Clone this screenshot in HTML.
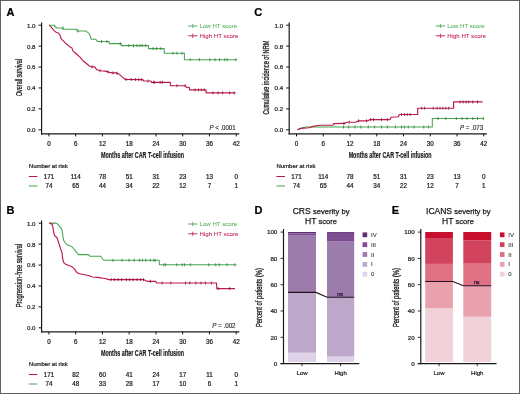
<!DOCTYPE html>
<html><head><meta charset="utf-8"><style>
html,body{margin:0;padding:0;background:#fff;}
#f{position:relative;width:520px;height:394px;overflow:hidden;background:#fff;}
svg{position:absolute;left:0;top:0;font-family:"Liberation Sans", sans-serif;will-change:transform;}
</style></head><body><div id="f">
<svg width="520" height="394" viewBox="0 0 520 394">
<rect x="0" y="0" width="520" height="394" fill="#fff"/>
<text x="6.6" y="15.9" font-size="11" text-anchor="start" fill="#000" font-weight="bold" stroke="#000" stroke-width="0.22" >A</text>
<line x1="41.6" y1="22.4" x2="41.6" y2="134.4" stroke="#1a1a1a" stroke-width="1.2"/>
<line x1="41" y1="133.9" x2="239.3" y2="133.9" stroke="#1a1a1a" stroke-width="1.4"/>
<line x1="38.6" y1="129.8" x2="41.6" y2="129.8" stroke="#111" stroke-width="1.0"/>
<text x="35.5" y="132.2" font-size="6.1" text-anchor="end" fill="#222" font-weight="normal" stroke="#222" stroke-width="0.22" >0.0</text>
<line x1="38.6" y1="108.88" x2="41.6" y2="108.88" stroke="#111" stroke-width="1.0"/>
<text x="35.5" y="111.28" font-size="6.1" text-anchor="end" fill="#222" font-weight="normal" stroke="#222" stroke-width="0.22" >0.2</text>
<line x1="38.6" y1="87.96" x2="41.6" y2="87.96" stroke="#111" stroke-width="1.0"/>
<text x="35.5" y="90.36" font-size="6.1" text-anchor="end" fill="#222" font-weight="normal" stroke="#222" stroke-width="0.22" >0.4</text>
<line x1="38.6" y1="67.04" x2="41.6" y2="67.04" stroke="#111" stroke-width="1.0"/>
<text x="35.5" y="69.44" font-size="6.1" text-anchor="end" fill="#222" font-weight="normal" stroke="#222" stroke-width="0.22" >0.6</text>
<line x1="38.6" y1="46.12" x2="41.6" y2="46.12" stroke="#111" stroke-width="1.0"/>
<text x="35.5" y="48.52" font-size="6.1" text-anchor="end" fill="#222" font-weight="normal" stroke="#222" stroke-width="0.22" >0.8</text>
<line x1="38.6" y1="25.2" x2="41.6" y2="25.2" stroke="#111" stroke-width="1.0"/>
<text x="35.5" y="27.6" font-size="6.1" text-anchor="end" fill="#222" font-weight="normal" stroke="#222" stroke-width="0.22" >1.0</text>
<line x1="48.9" y1="133.8" x2="48.9" y2="136.4" stroke="#111" stroke-width="1.0"/>
<text x="48.9" y="145.8" font-size="6.3" text-anchor="middle" fill="#222" font-weight="normal" stroke="#222" stroke-width="0.22" >0</text>
<line x1="75.66" y1="133.8" x2="75.66" y2="136.4" stroke="#111" stroke-width="1.0"/>
<text x="75.66" y="145.8" font-size="6.3" text-anchor="middle" fill="#222" font-weight="normal" stroke="#222" stroke-width="0.22" >6</text>
<line x1="102.41" y1="133.8" x2="102.41" y2="136.4" stroke="#111" stroke-width="1.0"/>
<text x="102.41" y="145.8" font-size="6.3" text-anchor="middle" fill="#222" font-weight="normal" stroke="#222" stroke-width="0.22" >12</text>
<line x1="129.17" y1="133.8" x2="129.17" y2="136.4" stroke="#111" stroke-width="1.0"/>
<text x="129.17" y="145.8" font-size="6.3" text-anchor="middle" fill="#222" font-weight="normal" stroke="#222" stroke-width="0.22" >18</text>
<line x1="155.93" y1="133.8" x2="155.93" y2="136.4" stroke="#111" stroke-width="1.0"/>
<text x="155.93" y="145.8" font-size="6.3" text-anchor="middle" fill="#222" font-weight="normal" stroke="#222" stroke-width="0.22" >24</text>
<line x1="182.69" y1="133.8" x2="182.69" y2="136.4" stroke="#111" stroke-width="1.0"/>
<text x="182.69" y="145.8" font-size="6.3" text-anchor="middle" fill="#222" font-weight="normal" stroke="#222" stroke-width="0.22" >30</text>
<line x1="209.44" y1="133.8" x2="209.44" y2="136.4" stroke="#111" stroke-width="1.0"/>
<text x="209.44" y="145.8" font-size="6.3" text-anchor="middle" fill="#222" font-weight="normal" stroke="#222" stroke-width="0.22" >36</text>
<line x1="236.2" y1="133.8" x2="236.2" y2="136.4" stroke="#111" stroke-width="1.0"/>
<text x="236.2" y="145.8" font-size="6.3" text-anchor="middle" fill="#222" font-weight="normal" stroke="#222" stroke-width="0.22" >42</text>
<text x="142.55" y="158.1" font-size="8.3" text-anchor="middle" fill="#1a1a1a" stroke="#1a1a1a" stroke-width="0.2" font-weight="bold" textLength="83" lengthAdjust="spacingAndGlyphs">Months after CAR T-cell infusion</text>
<text transform="translate(21.6,77.6) rotate(-90)" x="0" y="0" font-size="9.2" text-anchor="middle" fill="#1a1a1a" stroke="#1a1a1a" stroke-width="0.3" textLength="37" lengthAdjust="spacingAndGlyphs">Overall survival</text>
<line x1="188.2" y1="26" x2="197.4" y2="26" stroke="#47a44f" stroke-width="0.9"/>
<line x1="192.8" y1="23.8" x2="192.8" y2="28.2" stroke="#47a44f" stroke-width="0.8"/>
<text x="199.6" y="28.1" font-size="6.1" text-anchor="start" fill="#55b25a" font-weight="normal" stroke="#55b25a" stroke-width="0.05" >Low HT score</text>
<line x1="188.2" y1="35.8" x2="197.4" y2="35.8" stroke="#bb1a44" stroke-width="0.9"/>
<line x1="192.8" y1="33.6" x2="192.8" y2="38" stroke="#bb1a44" stroke-width="0.8"/>
<text x="199.6" y="37.9" font-size="6.1" text-anchor="start" fill="#c42450" font-weight="normal" stroke="#c42450" stroke-width="0.05" >High HT score</text>
<text x="235.6" y="129.8" font-size="6.6" text-anchor="end" fill="#222" stroke="#222" stroke-width="0.12" textLength="26.2" lengthAdjust="spacingAndGlyphs"><tspan font-style="italic">P</tspan> &lt; .0001</text>
<text x="28.8" y="168.3" font-size="6" text-anchor="start" fill="#222" font-weight="normal" stroke="#222" stroke-width="0.22" >Number at risk</text>
<line x1="28.8" y1="176.5" x2="37.4" y2="176.5" stroke="#bb1a44" stroke-width="1.0"/>
<text x="48.9" y="178.7" font-size="6.3" text-anchor="middle" fill="#222" font-weight="normal" stroke="#222" stroke-width="0.22" >171</text>
<text x="75.66" y="178.7" font-size="6.3" text-anchor="middle" fill="#222" font-weight="normal" stroke="#222" stroke-width="0.22" >114</text>
<text x="102.41" y="178.7" font-size="6.3" text-anchor="middle" fill="#222" font-weight="normal" stroke="#222" stroke-width="0.22" >78</text>
<text x="129.17" y="178.7" font-size="6.3" text-anchor="middle" fill="#222" font-weight="normal" stroke="#222" stroke-width="0.22" >51</text>
<text x="155.93" y="178.7" font-size="6.3" text-anchor="middle" fill="#222" font-weight="normal" stroke="#222" stroke-width="0.22" >31</text>
<text x="182.69" y="178.7" font-size="6.3" text-anchor="middle" fill="#222" font-weight="normal" stroke="#222" stroke-width="0.22" >23</text>
<text x="209.44" y="178.7" font-size="6.3" text-anchor="middle" fill="#222" font-weight="normal" stroke="#222" stroke-width="0.22" >13</text>
<text x="236.2" y="178.7" font-size="6.3" text-anchor="middle" fill="#222" font-weight="normal" stroke="#222" stroke-width="0.22" >0</text>
<line x1="28.8" y1="186" x2="37.4" y2="186" stroke="#47a44f" stroke-width="1.0"/>
<text x="48.9" y="188.2" font-size="6.3" text-anchor="middle" fill="#222" font-weight="normal" stroke="#222" stroke-width="0.22" >74</text>
<text x="75.66" y="188.2" font-size="6.3" text-anchor="middle" fill="#222" font-weight="normal" stroke="#222" stroke-width="0.22" >65</text>
<text x="102.41" y="188.2" font-size="6.3" text-anchor="middle" fill="#222" font-weight="normal" stroke="#222" stroke-width="0.22" >44</text>
<text x="129.17" y="188.2" font-size="6.3" text-anchor="middle" fill="#222" font-weight="normal" stroke="#222" stroke-width="0.22" >34</text>
<text x="155.93" y="188.2" font-size="6.3" text-anchor="middle" fill="#222" font-weight="normal" stroke="#222" stroke-width="0.22" >22</text>
<text x="182.69" y="188.2" font-size="6.3" text-anchor="middle" fill="#222" font-weight="normal" stroke="#222" stroke-width="0.22" >12</text>
<text x="209.44" y="188.2" font-size="6.3" text-anchor="middle" fill="#222" font-weight="normal" stroke="#222" stroke-width="0.22" >7</text>
<text x="236.2" y="188.2" font-size="6.3" text-anchor="middle" fill="#222" font-weight="normal" stroke="#222" stroke-width="0.22" >1</text>
<path d="M49,25.2 L54.5,25.2 L54.5,26.8 L56,26.8 L56,27.9 L63,27.9 L63,29.3 L77,29.3 L77,31 L85.5,31 L86.5,31.6 L88,32.5 L89.3,33.9 L90.4,36 L91.2,39.3 L95.8,39.3 L96.8,40.8 L97.8,41.5 L109.2,41.5 L109.2,43.6 L121.3,43.6 L121.3,45.6 L148.5,45.6 L148.5,48.6 L164.2,48.6 L164.2,53.3 L184.4,53.3 L184.4,59.7 L236.9,59.7" fill="none" stroke="#47a44f" stroke-width="1.05" stroke-linejoin="round"/>
<path d="M49.2,25.2 L50.3,26.1 L52.1,28.1 L54.1,30.6 L56.2,32.2 L58.7,33.2 L60.2,35.7 L61.2,38.8 L63.8,41.3 L66.3,43.8 L69.4,46.4 L71.9,47.9 L72.9,50.9 L75.5,53 L77.5,55 L80,57.1 L83,60.7 L86.1,63.2 L89.7,66.3 L91.2,66.8 L94.7,66.8 L96.8,69.8 L100.3,70.8 L105.4,71.1 L109.5,72.4 L112.5,72.9 L116.1,72.9 L118.6,73.9 L121.7,76.4 L125.2,79.5 L142.9,79.6 L143.5,81 L151,81 L151.3,82.3 L170.2,82.3 L170.6,85.7 L185.4,85.7 L186.3,87.1 L189.2,87.4 L189.6,89.9 L205.8,89.9 L206.2,92.9 L235.5,92.9" fill="none" stroke="#bb1a44" stroke-width="1.15" stroke-linejoin="round"/>
<text x="254.2" y="15.9" font-size="11" text-anchor="start" fill="#000" font-weight="bold" stroke="#000" stroke-width="0.22" >C</text>
<line x1="289.2" y1="22.4" x2="289.2" y2="134.4" stroke="#1a1a1a" stroke-width="1.2"/>
<line x1="288.6" y1="133.9" x2="486.9" y2="133.9" stroke="#1a1a1a" stroke-width="1.4"/>
<line x1="286.2" y1="129.8" x2="289.2" y2="129.8" stroke="#111" stroke-width="1.0"/>
<text x="283.1" y="132.2" font-size="6.1" text-anchor="end" fill="#222" font-weight="normal" stroke="#222" stroke-width="0.22" >0.0</text>
<line x1="286.2" y1="108.88" x2="289.2" y2="108.88" stroke="#111" stroke-width="1.0"/>
<text x="283.1" y="111.28" font-size="6.1" text-anchor="end" fill="#222" font-weight="normal" stroke="#222" stroke-width="0.22" >0.2</text>
<line x1="286.2" y1="87.96" x2="289.2" y2="87.96" stroke="#111" stroke-width="1.0"/>
<text x="283.1" y="90.36" font-size="6.1" text-anchor="end" fill="#222" font-weight="normal" stroke="#222" stroke-width="0.22" >0.4</text>
<line x1="286.2" y1="67.04" x2="289.2" y2="67.04" stroke="#111" stroke-width="1.0"/>
<text x="283.1" y="69.44" font-size="6.1" text-anchor="end" fill="#222" font-weight="normal" stroke="#222" stroke-width="0.22" >0.6</text>
<line x1="286.2" y1="46.12" x2="289.2" y2="46.12" stroke="#111" stroke-width="1.0"/>
<text x="283.1" y="48.52" font-size="6.1" text-anchor="end" fill="#222" font-weight="normal" stroke="#222" stroke-width="0.22" >0.8</text>
<line x1="286.2" y1="25.2" x2="289.2" y2="25.2" stroke="#111" stroke-width="1.0"/>
<text x="283.1" y="27.6" font-size="6.1" text-anchor="end" fill="#222" font-weight="normal" stroke="#222" stroke-width="0.22" >1.0</text>
<line x1="296.5" y1="133.8" x2="296.5" y2="136.4" stroke="#111" stroke-width="1.0"/>
<text x="296.5" y="145.8" font-size="6.3" text-anchor="middle" fill="#222" font-weight="normal" stroke="#222" stroke-width="0.22" >0</text>
<line x1="323.26" y1="133.8" x2="323.26" y2="136.4" stroke="#111" stroke-width="1.0"/>
<text x="323.26" y="145.8" font-size="6.3" text-anchor="middle" fill="#222" font-weight="normal" stroke="#222" stroke-width="0.22" >6</text>
<line x1="350.01" y1="133.8" x2="350.01" y2="136.4" stroke="#111" stroke-width="1.0"/>
<text x="350.01" y="145.8" font-size="6.3" text-anchor="middle" fill="#222" font-weight="normal" stroke="#222" stroke-width="0.22" >12</text>
<line x1="376.77" y1="133.8" x2="376.77" y2="136.4" stroke="#111" stroke-width="1.0"/>
<text x="376.77" y="145.8" font-size="6.3" text-anchor="middle" fill="#222" font-weight="normal" stroke="#222" stroke-width="0.22" >18</text>
<line x1="403.53" y1="133.8" x2="403.53" y2="136.4" stroke="#111" stroke-width="1.0"/>
<text x="403.53" y="145.8" font-size="6.3" text-anchor="middle" fill="#222" font-weight="normal" stroke="#222" stroke-width="0.22" >24</text>
<line x1="430.29" y1="133.8" x2="430.29" y2="136.4" stroke="#111" stroke-width="1.0"/>
<text x="430.29" y="145.8" font-size="6.3" text-anchor="middle" fill="#222" font-weight="normal" stroke="#222" stroke-width="0.22" >30</text>
<line x1="457.04" y1="133.8" x2="457.04" y2="136.4" stroke="#111" stroke-width="1.0"/>
<text x="457.04" y="145.8" font-size="6.3" text-anchor="middle" fill="#222" font-weight="normal" stroke="#222" stroke-width="0.22" >36</text>
<line x1="483.8" y1="133.8" x2="483.8" y2="136.4" stroke="#111" stroke-width="1.0"/>
<text x="483.8" y="145.8" font-size="6.3" text-anchor="middle" fill="#222" font-weight="normal" stroke="#222" stroke-width="0.22" >42</text>
<text x="390.15" y="158.1" font-size="8.3" text-anchor="middle" fill="#1a1a1a" stroke="#1a1a1a" stroke-width="0.2" font-weight="bold" textLength="83" lengthAdjust="spacingAndGlyphs">Months after CAR T-cell infusion</text>
<text transform="translate(269.2,77.6) rotate(-90)" x="0" y="0" font-size="9.2" text-anchor="middle" fill="#1a1a1a" stroke="#1a1a1a" stroke-width="0.3" textLength="74" lengthAdjust="spacingAndGlyphs">Cumulative incidence of NRM</text>
<line x1="435.8" y1="26" x2="445" y2="26" stroke="#47a44f" stroke-width="0.9"/>
<line x1="440.4" y1="23.8" x2="440.4" y2="28.2" stroke="#47a44f" stroke-width="0.8"/>
<text x="447.2" y="28.1" font-size="6.1" text-anchor="start" fill="#55b25a" font-weight="normal" stroke="#55b25a" stroke-width="0.05" >Low HT score</text>
<line x1="435.8" y1="35.8" x2="445" y2="35.8" stroke="#bb1a44" stroke-width="0.9"/>
<line x1="440.4" y1="33.6" x2="440.4" y2="38" stroke="#bb1a44" stroke-width="0.8"/>
<text x="447.2" y="37.9" font-size="6.1" text-anchor="start" fill="#c42450" font-weight="normal" stroke="#c42450" stroke-width="0.05" >High HT score</text>
<text x="483.2" y="129.8" font-size="6.6" text-anchor="end" fill="#222" stroke="#222" stroke-width="0.12" textLength="23.2" lengthAdjust="spacingAndGlyphs"><tspan font-style="italic">P</tspan> = .073</text>
<text x="276.4" y="168.3" font-size="6" text-anchor="start" fill="#222" font-weight="normal" stroke="#222" stroke-width="0.22" >Number at risk</text>
<line x1="276.4" y1="176.5" x2="285" y2="176.5" stroke="#bb1a44" stroke-width="1.0"/>
<text x="296.5" y="178.7" font-size="6.3" text-anchor="middle" fill="#222" font-weight="normal" stroke="#222" stroke-width="0.22" >171</text>
<text x="323.26" y="178.7" font-size="6.3" text-anchor="middle" fill="#222" font-weight="normal" stroke="#222" stroke-width="0.22" >114</text>
<text x="350.01" y="178.7" font-size="6.3" text-anchor="middle" fill="#222" font-weight="normal" stroke="#222" stroke-width="0.22" >78</text>
<text x="376.77" y="178.7" font-size="6.3" text-anchor="middle" fill="#222" font-weight="normal" stroke="#222" stroke-width="0.22" >51</text>
<text x="403.53" y="178.7" font-size="6.3" text-anchor="middle" fill="#222" font-weight="normal" stroke="#222" stroke-width="0.22" >31</text>
<text x="430.29" y="178.7" font-size="6.3" text-anchor="middle" fill="#222" font-weight="normal" stroke="#222" stroke-width="0.22" >23</text>
<text x="457.04" y="178.7" font-size="6.3" text-anchor="middle" fill="#222" font-weight="normal" stroke="#222" stroke-width="0.22" >13</text>
<text x="483.8" y="178.7" font-size="6.3" text-anchor="middle" fill="#222" font-weight="normal" stroke="#222" stroke-width="0.22" >0</text>
<line x1="276.4" y1="186" x2="285" y2="186" stroke="#47a44f" stroke-width="1.0"/>
<text x="296.5" y="188.2" font-size="6.3" text-anchor="middle" fill="#222" font-weight="normal" stroke="#222" stroke-width="0.22" >74</text>
<text x="323.26" y="188.2" font-size="6.3" text-anchor="middle" fill="#222" font-weight="normal" stroke="#222" stroke-width="0.22" >65</text>
<text x="350.01" y="188.2" font-size="6.3" text-anchor="middle" fill="#222" font-weight="normal" stroke="#222" stroke-width="0.22" >44</text>
<text x="376.77" y="188.2" font-size="6.3" text-anchor="middle" fill="#222" font-weight="normal" stroke="#222" stroke-width="0.22" >34</text>
<text x="403.53" y="188.2" font-size="6.3" text-anchor="middle" fill="#222" font-weight="normal" stroke="#222" stroke-width="0.22" >22</text>
<text x="430.29" y="188.2" font-size="6.3" text-anchor="middle" fill="#222" font-weight="normal" stroke="#222" stroke-width="0.22" >12</text>
<text x="457.04" y="188.2" font-size="6.3" text-anchor="middle" fill="#222" font-weight="normal" stroke="#222" stroke-width="0.22" >7</text>
<text x="483.8" y="188.2" font-size="6.3" text-anchor="middle" fill="#222" font-weight="normal" stroke="#222" stroke-width="0.22" >1</text>
<path d="M297.5,129.8 L299.5,128.8 L301.5,128 L303.8,127.4 L306,127 L432.3,127 L432.3,118.5 L484,118.5" fill="none" stroke="#47a44f" stroke-width="1.05" stroke-linejoin="round"/>
<path d="M297.5,129.8 L301,128.4 L309,127.7 L313,126.4 L320,125.3 L333,125.1 L333.6,123.6 L344.6,123.4 L346.9,122.2 L356.2,122.1 L358.5,120.8 L368,120.8 L370,119.6 L390,119.6 L391,117.3 L398.4,116.8 L399.4,114.5 L417.7,114.5 L417.7,108.2 L453.6,108.2 L453.6,101.9 L482.5,101.9" fill="none" stroke="#bb1a44" stroke-width="1.15" stroke-linejoin="round"/>
<text x="6.6" y="213.9" font-size="11" text-anchor="start" fill="#000" font-weight="bold" stroke="#000" stroke-width="0.22" >B</text>
<line x1="41.6" y1="220.4" x2="41.6" y2="332.4" stroke="#1a1a1a" stroke-width="1.2"/>
<line x1="41" y1="331.9" x2="239.3" y2="331.9" stroke="#1a1a1a" stroke-width="1.4"/>
<line x1="38.6" y1="327.8" x2="41.6" y2="327.8" stroke="#111" stroke-width="1.0"/>
<text x="35.5" y="330.2" font-size="6.1" text-anchor="end" fill="#222" font-weight="normal" stroke="#222" stroke-width="0.22" >0.0</text>
<line x1="38.6" y1="306.88" x2="41.6" y2="306.88" stroke="#111" stroke-width="1.0"/>
<text x="35.5" y="309.28" font-size="6.1" text-anchor="end" fill="#222" font-weight="normal" stroke="#222" stroke-width="0.22" >0.2</text>
<line x1="38.6" y1="285.96" x2="41.6" y2="285.96" stroke="#111" stroke-width="1.0"/>
<text x="35.5" y="288.36" font-size="6.1" text-anchor="end" fill="#222" font-weight="normal" stroke="#222" stroke-width="0.22" >0.4</text>
<line x1="38.6" y1="265.04" x2="41.6" y2="265.04" stroke="#111" stroke-width="1.0"/>
<text x="35.5" y="267.44" font-size="6.1" text-anchor="end" fill="#222" font-weight="normal" stroke="#222" stroke-width="0.22" >0.6</text>
<line x1="38.6" y1="244.12" x2="41.6" y2="244.12" stroke="#111" stroke-width="1.0"/>
<text x="35.5" y="246.52" font-size="6.1" text-anchor="end" fill="#222" font-weight="normal" stroke="#222" stroke-width="0.22" >0.8</text>
<line x1="38.6" y1="223.2" x2="41.6" y2="223.2" stroke="#111" stroke-width="1.0"/>
<text x="35.5" y="225.6" font-size="6.1" text-anchor="end" fill="#222" font-weight="normal" stroke="#222" stroke-width="0.22" >1.0</text>
<line x1="48.9" y1="331.8" x2="48.9" y2="334.4" stroke="#111" stroke-width="1.0"/>
<text x="48.9" y="343.8" font-size="6.3" text-anchor="middle" fill="#222" font-weight="normal" stroke="#222" stroke-width="0.22" >0</text>
<line x1="75.66" y1="331.8" x2="75.66" y2="334.4" stroke="#111" stroke-width="1.0"/>
<text x="75.66" y="343.8" font-size="6.3" text-anchor="middle" fill="#222" font-weight="normal" stroke="#222" stroke-width="0.22" >6</text>
<line x1="102.41" y1="331.8" x2="102.41" y2="334.4" stroke="#111" stroke-width="1.0"/>
<text x="102.41" y="343.8" font-size="6.3" text-anchor="middle" fill="#222" font-weight="normal" stroke="#222" stroke-width="0.22" >12</text>
<line x1="129.17" y1="331.8" x2="129.17" y2="334.4" stroke="#111" stroke-width="1.0"/>
<text x="129.17" y="343.8" font-size="6.3" text-anchor="middle" fill="#222" font-weight="normal" stroke="#222" stroke-width="0.22" >18</text>
<line x1="155.93" y1="331.8" x2="155.93" y2="334.4" stroke="#111" stroke-width="1.0"/>
<text x="155.93" y="343.8" font-size="6.3" text-anchor="middle" fill="#222" font-weight="normal" stroke="#222" stroke-width="0.22" >24</text>
<line x1="182.69" y1="331.8" x2="182.69" y2="334.4" stroke="#111" stroke-width="1.0"/>
<text x="182.69" y="343.8" font-size="6.3" text-anchor="middle" fill="#222" font-weight="normal" stroke="#222" stroke-width="0.22" >30</text>
<line x1="209.44" y1="331.8" x2="209.44" y2="334.4" stroke="#111" stroke-width="1.0"/>
<text x="209.44" y="343.8" font-size="6.3" text-anchor="middle" fill="#222" font-weight="normal" stroke="#222" stroke-width="0.22" >36</text>
<line x1="236.2" y1="331.8" x2="236.2" y2="334.4" stroke="#111" stroke-width="1.0"/>
<text x="236.2" y="343.8" font-size="6.3" text-anchor="middle" fill="#222" font-weight="normal" stroke="#222" stroke-width="0.22" >42</text>
<text x="142.55" y="356.1" font-size="8.3" text-anchor="middle" fill="#1a1a1a" stroke="#1a1a1a" stroke-width="0.2" font-weight="bold" textLength="83" lengthAdjust="spacingAndGlyphs">Months after CAR T-cell infusion</text>
<text transform="translate(21.6,275.6) rotate(-90)" x="0" y="0" font-size="9.2" text-anchor="middle" fill="#1a1a1a" stroke="#1a1a1a" stroke-width="0.3" textLength="63.5" lengthAdjust="spacingAndGlyphs">Progression-free survival</text>
<line x1="188.2" y1="224" x2="197.4" y2="224" stroke="#47a44f" stroke-width="0.9"/>
<line x1="192.8" y1="221.8" x2="192.8" y2="226.2" stroke="#47a44f" stroke-width="0.8"/>
<text x="199.6" y="226.1" font-size="6.1" text-anchor="start" fill="#55b25a" font-weight="normal" stroke="#55b25a" stroke-width="0.05" >Low HT score</text>
<line x1="188.2" y1="233.8" x2="197.4" y2="233.8" stroke="#bb1a44" stroke-width="0.9"/>
<line x1="192.8" y1="231.6" x2="192.8" y2="236" stroke="#bb1a44" stroke-width="0.8"/>
<text x="199.6" y="235.9" font-size="6.1" text-anchor="start" fill="#c42450" font-weight="normal" stroke="#c42450" stroke-width="0.05" >High HT score</text>
<text x="235.6" y="327.8" font-size="6.6" text-anchor="end" fill="#222" stroke="#222" stroke-width="0.12" textLength="23.4" lengthAdjust="spacingAndGlyphs"><tspan font-style="italic">P</tspan> = .002</text>
<text x="28.8" y="366.3" font-size="6" text-anchor="start" fill="#222" font-weight="normal" stroke="#222" stroke-width="0.22" >Number at risk</text>
<line x1="28.8" y1="374.5" x2="37.4" y2="374.5" stroke="#bb1a44" stroke-width="1.0"/>
<text x="48.9" y="376.7" font-size="6.3" text-anchor="middle" fill="#222" font-weight="normal" stroke="#222" stroke-width="0.22" >171</text>
<text x="75.66" y="376.7" font-size="6.3" text-anchor="middle" fill="#222" font-weight="normal" stroke="#222" stroke-width="0.22" >82</text>
<text x="102.41" y="376.7" font-size="6.3" text-anchor="middle" fill="#222" font-weight="normal" stroke="#222" stroke-width="0.22" >60</text>
<text x="129.17" y="376.7" font-size="6.3" text-anchor="middle" fill="#222" font-weight="normal" stroke="#222" stroke-width="0.22" >41</text>
<text x="155.93" y="376.7" font-size="6.3" text-anchor="middle" fill="#222" font-weight="normal" stroke="#222" stroke-width="0.22" >24</text>
<text x="182.69" y="376.7" font-size="6.3" text-anchor="middle" fill="#222" font-weight="normal" stroke="#222" stroke-width="0.22" >17</text>
<text x="209.44" y="376.7" font-size="6.3" text-anchor="middle" fill="#222" font-weight="normal" stroke="#222" stroke-width="0.22" >11</text>
<text x="236.2" y="376.7" font-size="6.3" text-anchor="middle" fill="#222" font-weight="normal" stroke="#222" stroke-width="0.22" >0</text>
<line x1="28.8" y1="384" x2="37.4" y2="384" stroke="#47a44f" stroke-width="1.0"/>
<text x="48.9" y="386.2" font-size="6.3" text-anchor="middle" fill="#222" font-weight="normal" stroke="#222" stroke-width="0.22" >74</text>
<text x="75.66" y="386.2" font-size="6.3" text-anchor="middle" fill="#222" font-weight="normal" stroke="#222" stroke-width="0.22" >48</text>
<text x="102.41" y="386.2" font-size="6.3" text-anchor="middle" fill="#222" font-weight="normal" stroke="#222" stroke-width="0.22" >33</text>
<text x="129.17" y="386.2" font-size="6.3" text-anchor="middle" fill="#222" font-weight="normal" stroke="#222" stroke-width="0.22" >28</text>
<text x="155.93" y="386.2" font-size="6.3" text-anchor="middle" fill="#222" font-weight="normal" stroke="#222" stroke-width="0.22" >17</text>
<text x="182.69" y="386.2" font-size="6.3" text-anchor="middle" fill="#222" font-weight="normal" stroke="#222" stroke-width="0.22" >10</text>
<text x="209.44" y="386.2" font-size="6.3" text-anchor="middle" fill="#222" font-weight="normal" stroke="#222" stroke-width="0.22" >6</text>
<text x="236.2" y="386.2" font-size="6.3" text-anchor="middle" fill="#222" font-weight="normal" stroke="#222" stroke-width="0.22" >1</text>
<path d="M49.2,223.1 L56.2,223.1 L57.7,224.1 L59.7,226.6 L61.2,228.2 L62.3,231.2 L62.8,235.8 L63.8,240.8 L65.3,242.9 L67.3,244.9 L70.4,245.9 L72.3,247 L73.4,248.5 L75.3,250.6 L76.4,252 L78.4,254.6 L88.5,254.6 L90,256.3 L100.8,256.3 L101.5,257.5 L103.7,260.3 L159.2,260.3 L159.5,264.8 L236.5,264.8" fill="none" stroke="#47a44f" stroke-width="1.05" stroke-linejoin="round"/>
<path d="M49.2,223.1 L52.1,224.1 L53.1,228.2 L53.6,232.2 L54.6,235.8 L56.7,237.3 L57.7,239.8 L59.2,244.4 L60.6,249 L62.1,253.1 L62.6,258.2 L63.6,262.3 L65.7,264.3 L69.2,265.8 L72.3,266.8 L74.8,269.4 L76.3,271.9 L78.4,273.5 L83.5,274.5 L88.5,275.5 L92.6,277 L97.7,277.4 L100.8,277.9 L105.4,278.5 L108.8,279.6 L143.5,279.6 L146.9,281.3 L156,281.3 L156.5,283 L216.5,283 L216.8,288.6 L235,288.6" fill="none" stroke="#bb1a44" stroke-width="1.15" stroke-linejoin="round"/>
<line x1="62.9" y1="26.4" x2="62.9" y2="29.4" stroke="#2f7f38" stroke-width="0.8"/>
<line x1="77.9" y1="29.5" x2="77.9" y2="32.5" stroke="#2f7f38" stroke-width="0.8"/>
<line x1="101.5" y1="40" x2="101.5" y2="43" stroke="#2f7f38" stroke-width="0.8"/>
<line x1="106.9" y1="40" x2="106.9" y2="43" stroke="#2f7f38" stroke-width="0.8"/>
<line x1="120.2" y1="42.1" x2="120.2" y2="45.1" stroke="#2f7f38" stroke-width="0.8"/>
<line x1="128.8" y1="44.1" x2="128.8" y2="47.1" stroke="#2f7f38" stroke-width="0.8"/>
<line x1="133.5" y1="44.1" x2="133.5" y2="47.1" stroke="#2f7f38" stroke-width="0.8"/>
<line x1="136.9" y1="44.1" x2="136.9" y2="47.1" stroke="#2f7f38" stroke-width="0.8"/>
<line x1="139.8" y1="44.1" x2="139.8" y2="47.1" stroke="#2f7f38" stroke-width="0.8"/>
<line x1="142.1" y1="44.1" x2="142.1" y2="47.1" stroke="#2f7f38" stroke-width="0.8"/>
<line x1="145.6" y1="44.1" x2="145.6" y2="47.1" stroke="#2f7f38" stroke-width="0.8"/>
<line x1="153" y1="47.1" x2="153" y2="50.1" stroke="#2f7f38" stroke-width="0.8"/>
<line x1="156.5" y1="47.1" x2="156.5" y2="50.1" stroke="#2f7f38" stroke-width="0.8"/>
<line x1="160.8" y1="47.1" x2="160.8" y2="50.1" stroke="#2f7f38" stroke-width="0.8"/>
<line x1="172.9" y1="51.8" x2="172.9" y2="54.8" stroke="#2f7f38" stroke-width="0.8"/>
<line x1="176.9" y1="51.8" x2="176.9" y2="54.8" stroke="#2f7f38" stroke-width="0.8"/>
<line x1="182.1" y1="51.8" x2="182.1" y2="54.8" stroke="#2f7f38" stroke-width="0.8"/>
<line x1="190.2" y1="58.2" x2="190.2" y2="61.2" stroke="#2f7f38" stroke-width="0.8"/>
<line x1="199.4" y1="58.2" x2="199.4" y2="61.2" stroke="#2f7f38" stroke-width="0.8"/>
<line x1="209.8" y1="58.2" x2="209.8" y2="61.2" stroke="#2f7f38" stroke-width="0.8"/>
<line x1="215" y1="58.2" x2="215" y2="61.2" stroke="#2f7f38" stroke-width="0.8"/>
<line x1="219.6" y1="58.2" x2="219.6" y2="61.2" stroke="#2f7f38" stroke-width="0.8"/>
<line x1="224.8" y1="58.2" x2="224.8" y2="61.2" stroke="#2f7f38" stroke-width="0.8"/>
<line x1="227.1" y1="58.2" x2="227.1" y2="61.2" stroke="#2f7f38" stroke-width="0.8"/>
<line x1="235.8" y1="58.2" x2="235.8" y2="61.2" stroke="#2f7f38" stroke-width="0.8"/>
<line x1="92" y1="65.3" x2="92" y2="68.3" stroke="#8a1236" stroke-width="0.8"/>
<line x1="100" y1="69.21" x2="100" y2="72.21" stroke="#8a1236" stroke-width="0.8"/>
<line x1="108" y1="70.42" x2="108" y2="73.42" stroke="#8a1236" stroke-width="0.8"/>
<line x1="113" y1="71.4" x2="113" y2="74.4" stroke="#8a1236" stroke-width="0.8"/>
<line x1="117" y1="71.76" x2="117" y2="74.76" stroke="#8a1236" stroke-width="0.8"/>
<line x1="126.2" y1="78.01" x2="126.2" y2="81.01" stroke="#8a1236" stroke-width="0.8"/>
<line x1="131.3" y1="78.03" x2="131.3" y2="81.03" stroke="#8a1236" stroke-width="0.8"/>
<line x1="135.4" y1="78.06" x2="135.4" y2="81.06" stroke="#8a1236" stroke-width="0.8"/>
<line x1="138.8" y1="78.08" x2="138.8" y2="81.08" stroke="#8a1236" stroke-width="0.8"/>
<line x1="141.7" y1="78.09" x2="141.7" y2="81.09" stroke="#8a1236" stroke-width="0.8"/>
<line x1="148.1" y1="79.5" x2="148.1" y2="82.5" stroke="#8a1236" stroke-width="0.8"/>
<line x1="153.8" y1="80.8" x2="153.8" y2="83.8" stroke="#8a1236" stroke-width="0.8"/>
<line x1="154.3" y1="80.8" x2="154.3" y2="83.8" stroke="#8a1236" stroke-width="0.8"/>
<line x1="160.2" y1="80.8" x2="160.2" y2="83.8" stroke="#8a1236" stroke-width="0.8"/>
<line x1="162.3" y1="80.8" x2="162.3" y2="83.8" stroke="#8a1236" stroke-width="0.8"/>
<line x1="176.9" y1="84.2" x2="176.9" y2="87.2" stroke="#8a1236" stroke-width="0.8"/>
<line x1="185.2" y1="84.2" x2="185.2" y2="87.2" stroke="#8a1236" stroke-width="0.8"/>
<line x1="195" y1="88.4" x2="195" y2="91.4" stroke="#8a1236" stroke-width="0.8"/>
<line x1="198.5" y1="88.4" x2="198.5" y2="91.4" stroke="#8a1236" stroke-width="0.8"/>
<line x1="201.3" y1="88.4" x2="201.3" y2="91.4" stroke="#8a1236" stroke-width="0.8"/>
<line x1="204.2" y1="88.4" x2="204.2" y2="91.4" stroke="#8a1236" stroke-width="0.8"/>
<line x1="212.9" y1="91.4" x2="212.9" y2="94.4" stroke="#8a1236" stroke-width="0.8"/>
<line x1="218.1" y1="91.4" x2="218.1" y2="94.4" stroke="#8a1236" stroke-width="0.8"/>
<line x1="222.7" y1="91.4" x2="222.7" y2="94.4" stroke="#8a1236" stroke-width="0.8"/>
<line x1="229.6" y1="91.4" x2="229.6" y2="94.4" stroke="#8a1236" stroke-width="0.8"/>
<line x1="234.2" y1="91.4" x2="234.2" y2="94.4" stroke="#8a1236" stroke-width="0.8"/>
<line x1="343.5" y1="125.5" x2="343.5" y2="128.5" stroke="#2f7f38" stroke-width="0.8"/>
<line x1="348.7" y1="125.5" x2="348.7" y2="128.5" stroke="#2f7f38" stroke-width="0.8"/>
<line x1="355" y1="125.5" x2="355" y2="128.5" stroke="#2f7f38" stroke-width="0.8"/>
<line x1="360.8" y1="125.5" x2="360.8" y2="128.5" stroke="#2f7f38" stroke-width="0.8"/>
<line x1="368.3" y1="125.5" x2="368.3" y2="128.5" stroke="#2f7f38" stroke-width="0.8"/>
<line x1="374.6" y1="125.5" x2="374.6" y2="128.5" stroke="#2f7f38" stroke-width="0.8"/>
<line x1="381.5" y1="125.5" x2="381.5" y2="128.5" stroke="#2f7f38" stroke-width="0.8"/>
<line x1="387.3" y1="125.5" x2="387.3" y2="128.5" stroke="#2f7f38" stroke-width="0.8"/>
<line x1="395.4" y1="125.5" x2="395.4" y2="128.5" stroke="#2f7f38" stroke-width="0.8"/>
<line x1="401.5" y1="125.5" x2="401.5" y2="128.5" stroke="#2f7f38" stroke-width="0.8"/>
<line x1="404.4" y1="125.5" x2="404.4" y2="128.5" stroke="#2f7f38" stroke-width="0.8"/>
<line x1="408.3" y1="125.5" x2="408.3" y2="128.5" stroke="#2f7f38" stroke-width="0.8"/>
<line x1="414" y1="125.5" x2="414" y2="128.5" stroke="#2f7f38" stroke-width="0.8"/>
<line x1="423.7" y1="125.5" x2="423.7" y2="128.5" stroke="#2f7f38" stroke-width="0.8"/>
<line x1="428.5" y1="125.5" x2="428.5" y2="128.5" stroke="#2f7f38" stroke-width="0.8"/>
<line x1="438" y1="117" x2="438" y2="120" stroke="#2f7f38" stroke-width="0.8"/>
<line x1="445.8" y1="117" x2="445.8" y2="120" stroke="#2f7f38" stroke-width="0.8"/>
<line x1="456.3" y1="117" x2="456.3" y2="120" stroke="#2f7f38" stroke-width="0.8"/>
<line x1="462.1" y1="117" x2="462.1" y2="120" stroke="#2f7f38" stroke-width="0.8"/>
<line x1="466.9" y1="117" x2="466.9" y2="120" stroke="#2f7f38" stroke-width="0.8"/>
<line x1="472.7" y1="117" x2="472.7" y2="120" stroke="#2f7f38" stroke-width="0.8"/>
<line x1="477.5" y1="117" x2="477.5" y2="120" stroke="#2f7f38" stroke-width="0.8"/>
<line x1="483.3" y1="117" x2="483.3" y2="120" stroke="#2f7f38" stroke-width="0.8"/>
<line x1="344" y1="121.91" x2="344" y2="124.91" stroke="#8a1236" stroke-width="0.8"/>
<line x1="349.2" y1="120.68" x2="349.2" y2="123.68" stroke="#8a1236" stroke-width="0.8"/>
<line x1="358.5" y1="119.3" x2="358.5" y2="122.3" stroke="#8a1236" stroke-width="0.8"/>
<line x1="366.5" y1="119.3" x2="366.5" y2="122.3" stroke="#8a1236" stroke-width="0.8"/>
<line x1="370.6" y1="118.1" x2="370.6" y2="121.1" stroke="#8a1236" stroke-width="0.8"/>
<line x1="373.5" y1="118.1" x2="373.5" y2="121.1" stroke="#8a1236" stroke-width="0.8"/>
<line x1="381.5" y1="118.1" x2="381.5" y2="121.1" stroke="#8a1236" stroke-width="0.8"/>
<line x1="387.3" y1="118.1" x2="387.3" y2="121.1" stroke="#8a1236" stroke-width="0.8"/>
<line x1="401.5" y1="113" x2="401.5" y2="116" stroke="#8a1236" stroke-width="0.8"/>
<line x1="404.4" y1="113" x2="404.4" y2="116" stroke="#8a1236" stroke-width="0.8"/>
<line x1="407.3" y1="113" x2="407.3" y2="116" stroke="#8a1236" stroke-width="0.8"/>
<line x1="410.2" y1="113" x2="410.2" y2="116" stroke="#8a1236" stroke-width="0.8"/>
<line x1="421.7" y1="106.7" x2="421.7" y2="109.7" stroke="#8a1236" stroke-width="0.8"/>
<line x1="424.6" y1="106.7" x2="424.6" y2="109.7" stroke="#8a1236" stroke-width="0.8"/>
<line x1="433.3" y1="106.7" x2="433.3" y2="109.7" stroke="#8a1236" stroke-width="0.8"/>
<line x1="437.1" y1="106.7" x2="437.1" y2="109.7" stroke="#8a1236" stroke-width="0.8"/>
<line x1="440" y1="106.7" x2="440" y2="109.7" stroke="#8a1236" stroke-width="0.8"/>
<line x1="442.9" y1="106.7" x2="442.9" y2="109.7" stroke="#8a1236" stroke-width="0.8"/>
<line x1="445.8" y1="106.7" x2="445.8" y2="109.7" stroke="#8a1236" stroke-width="0.8"/>
<line x1="448.7" y1="106.7" x2="448.7" y2="109.7" stroke="#8a1236" stroke-width="0.8"/>
<line x1="460.2" y1="100.4" x2="460.2" y2="103.4" stroke="#8a1236" stroke-width="0.8"/>
<line x1="463.1" y1="100.4" x2="463.1" y2="103.4" stroke="#8a1236" stroke-width="0.8"/>
<line x1="466" y1="100.4" x2="466" y2="103.4" stroke="#8a1236" stroke-width="0.8"/>
<line x1="468.8" y1="100.4" x2="468.8" y2="103.4" stroke="#8a1236" stroke-width="0.8"/>
<line x1="472.7" y1="100.4" x2="472.7" y2="103.4" stroke="#8a1236" stroke-width="0.8"/>
<line x1="477.5" y1="100.4" x2="477.5" y2="103.4" stroke="#8a1236" stroke-width="0.8"/>
<line x1="112.9" y1="258.8" x2="112.9" y2="261.8" stroke="#2f7f38" stroke-width="0.8"/>
<line x1="122.1" y1="258.8" x2="122.1" y2="261.8" stroke="#2f7f38" stroke-width="0.8"/>
<line x1="129" y1="258.8" x2="129" y2="261.8" stroke="#2f7f38" stroke-width="0.8"/>
<line x1="134.2" y1="258.8" x2="134.2" y2="261.8" stroke="#2f7f38" stroke-width="0.8"/>
<line x1="139.4" y1="258.8" x2="139.4" y2="261.8" stroke="#2f7f38" stroke-width="0.8"/>
<line x1="142.3" y1="258.8" x2="142.3" y2="261.8" stroke="#2f7f38" stroke-width="0.8"/>
<line x1="145.8" y1="258.8" x2="145.8" y2="261.8" stroke="#2f7f38" stroke-width="0.8"/>
<line x1="150.4" y1="258.8" x2="150.4" y2="261.8" stroke="#2f7f38" stroke-width="0.8"/>
<line x1="153.8" y1="258.8" x2="153.8" y2="261.8" stroke="#2f7f38" stroke-width="0.8"/>
<line x1="155.2" y1="258.8" x2="155.2" y2="261.8" stroke="#2f7f38" stroke-width="0.8"/>
<line x1="163.8" y1="263.3" x2="163.8" y2="266.3" stroke="#2f7f38" stroke-width="0.8"/>
<line x1="165.6" y1="263.3" x2="165.6" y2="266.3" stroke="#2f7f38" stroke-width="0.8"/>
<line x1="176.8" y1="263.3" x2="176.8" y2="266.3" stroke="#2f7f38" stroke-width="0.8"/>
<line x1="182.3" y1="263.3" x2="182.3" y2="266.3" stroke="#2f7f38" stroke-width="0.8"/>
<line x1="184.6" y1="263.3" x2="184.6" y2="266.3" stroke="#2f7f38" stroke-width="0.8"/>
<line x1="190.4" y1="263.3" x2="190.4" y2="266.3" stroke="#2f7f38" stroke-width="0.8"/>
<line x1="208.8" y1="263.3" x2="208.8" y2="266.3" stroke="#2f7f38" stroke-width="0.8"/>
<line x1="215.7" y1="263.3" x2="215.7" y2="266.3" stroke="#2f7f38" stroke-width="0.8"/>
<line x1="219.2" y1="263.3" x2="219.2" y2="266.3" stroke="#2f7f38" stroke-width="0.8"/>
<line x1="227" y1="263.3" x2="227" y2="266.3" stroke="#2f7f38" stroke-width="0.8"/>
<line x1="234.8" y1="263.3" x2="234.8" y2="266.3" stroke="#2f7f38" stroke-width="0.8"/>
<line x1="111.2" y1="278.1" x2="111.2" y2="281.1" stroke="#8a1236" stroke-width="0.8"/>
<line x1="114.6" y1="278.1" x2="114.6" y2="281.1" stroke="#8a1236" stroke-width="0.8"/>
<line x1="118.1" y1="278.1" x2="118.1" y2="281.1" stroke="#8a1236" stroke-width="0.8"/>
<line x1="121.5" y1="278.1" x2="121.5" y2="281.1" stroke="#8a1236" stroke-width="0.8"/>
<line x1="126.2" y1="278.1" x2="126.2" y2="281.1" stroke="#8a1236" stroke-width="0.8"/>
<line x1="129.6" y1="278.1" x2="129.6" y2="281.1" stroke="#8a1236" stroke-width="0.8"/>
<line x1="133.1" y1="278.1" x2="133.1" y2="281.1" stroke="#8a1236" stroke-width="0.8"/>
<line x1="137.1" y1="278.1" x2="137.1" y2="281.1" stroke="#8a1236" stroke-width="0.8"/>
<line x1="140.6" y1="278.1" x2="140.6" y2="281.1" stroke="#8a1236" stroke-width="0.8"/>
<line x1="143.5" y1="278.1" x2="143.5" y2="281.1" stroke="#8a1236" stroke-width="0.8"/>
<line x1="150.4" y1="279.8" x2="150.4" y2="282.8" stroke="#8a1236" stroke-width="0.8"/>
<line x1="162.1" y1="281.5" x2="162.1" y2="284.5" stroke="#8a1236" stroke-width="0.8"/>
<line x1="170.8" y1="281.5" x2="170.8" y2="284.5" stroke="#8a1236" stroke-width="0.8"/>
<line x1="185.5" y1="281.5" x2="185.5" y2="284.5" stroke="#8a1236" stroke-width="0.8"/>
<line x1="189.8" y1="281.5" x2="189.8" y2="284.5" stroke="#8a1236" stroke-width="0.8"/>
<line x1="195.8" y1="281.5" x2="195.8" y2="284.5" stroke="#8a1236" stroke-width="0.8"/>
<line x1="201" y1="281.5" x2="201" y2="284.5" stroke="#8a1236" stroke-width="0.8"/>
<line x1="205.4" y1="281.5" x2="205.4" y2="284.5" stroke="#8a1236" stroke-width="0.8"/>
<line x1="211.4" y1="281.5" x2="211.4" y2="284.5" stroke="#8a1236" stroke-width="0.8"/>
<line x1="218.3" y1="287.1" x2="218.3" y2="290.1" stroke="#8a1236" stroke-width="0.8"/>
<line x1="229.6" y1="287.1" x2="229.6" y2="290.1" stroke="#8a1236" stroke-width="0.8"/>
<text x="254.4" y="213.9" font-size="11" text-anchor="start" fill="#000" font-weight="bold" stroke="#000" stroke-width="0.22" >D</text>
<rect x="288" y="352.7" width="28" height="9.3" fill="#ded2e8"/>
<rect x="288" y="292.4" width="28" height="60.3" fill="#bea8c9"/>
<rect x="288" y="235.6" width="28" height="56.8" fill="#9c7cab"/>
<rect x="288" y="233.5" width="28" height="2.1" fill="#7e4c92"/>
<rect x="288" y="232" width="28" height="1.5" fill="#5e2f72"/>
<rect x="327" y="356.5" width="27.2" height="5.5" fill="#ded2e8"/>
<rect x="327" y="297.3" width="27.2" height="59.2" fill="#bea8c9"/>
<rect x="327" y="241.1" width="27.2" height="56.2" fill="#9c7cab"/>
<rect x="327" y="232.9" width="27.2" height="8.2" fill="#7e4c92"/>
<rect x="327" y="232" width="27.2" height="0.9" fill="#5e2f72"/>
<path d="M288,292.4 H316 L327,297.3 H354.2" fill="none" stroke="#231020" stroke-width="1.1"/>
<text x="340" y="295.8" font-size="5.2" text-anchor="middle" fill="#2a1030" font-weight="normal" stroke="#2a1030" stroke-width="0.25" >ns</text>
<line x1="283.5" y1="229" x2="283.5" y2="364.1" stroke="#1a1a1a" stroke-width="1.2"/>
<line x1="280.5" y1="363.6" x2="359.3" y2="363.6" stroke="#1a1a1a" stroke-width="1.3"/>
<line x1="280.5" y1="363.6" x2="283.5" y2="363.6" stroke="#1a1a1a" stroke-width="0.9"/>
<text x="277.3" y="365.9" font-size="6.2" text-anchor="end" fill="#222" font-weight="normal" stroke="#222" stroke-width="0.22" >0</text>
<line x1="280.5" y1="337.3" x2="283.5" y2="337.3" stroke="#1a1a1a" stroke-width="0.9"/>
<text x="277.3" y="339.6" font-size="6.2" text-anchor="end" fill="#222" font-weight="normal" stroke="#222" stroke-width="0.22" >20</text>
<line x1="280.5" y1="311" x2="283.5" y2="311" stroke="#1a1a1a" stroke-width="0.9"/>
<text x="277.3" y="313.3" font-size="6.2" text-anchor="end" fill="#222" font-weight="normal" stroke="#222" stroke-width="0.22" >40</text>
<line x1="280.5" y1="284.7" x2="283.5" y2="284.7" stroke="#1a1a1a" stroke-width="0.9"/>
<text x="277.3" y="287" font-size="6.2" text-anchor="end" fill="#222" font-weight="normal" stroke="#222" stroke-width="0.22" >60</text>
<line x1="280.5" y1="258.4" x2="283.5" y2="258.4" stroke="#1a1a1a" stroke-width="0.9"/>
<text x="277.3" y="260.7" font-size="6.2" text-anchor="end" fill="#222" font-weight="normal" stroke="#222" stroke-width="0.22" >80</text>
<line x1="280.5" y1="232.1" x2="283.5" y2="232.1" stroke="#1a1a1a" stroke-width="0.9"/>
<text x="277.3" y="234.4" font-size="6.2" text-anchor="end" fill="#222" font-weight="normal" stroke="#222" stroke-width="0.22" >100</text>
<line x1="302" y1="363.6" x2="302" y2="366.2" stroke="#1a1a1a" stroke-width="0.9"/>
<text x="302" y="375.4" font-size="6" text-anchor="middle" fill="#222" font-weight="normal" stroke="#222" stroke-width="0.22" >Low</text>
<line x1="340.6" y1="363.6" x2="340.6" y2="366.2" stroke="#1a1a1a" stroke-width="0.9"/>
<text x="340.6" y="375.4" font-size="6" text-anchor="middle" fill="#222" font-weight="normal" stroke="#222" stroke-width="0.22" >High</text>
<text x="292.7" y="213.9" fill="#1a1a1a" stroke="#1a1a1a" stroke-width="0.25" font-size="7.6" textLength="56.8" lengthAdjust="spacing"><tspan font-size="8.5">CRS</tspan> severity by</text>
<text x="305" y="223.7" fill="#1a1a1a" stroke="#1a1a1a" stroke-width="0.25" font-size="7.6"><tspan font-size="8.5">HT</tspan> score</text>
<text transform="translate(261.6,297.6) rotate(-90)" font-size="8.4" text-anchor="middle" fill="#1a1a1a" stroke="#1a1a1a" stroke-width="0.3" textLength="59" lengthAdjust="spacingAndGlyphs">Percent of patients (%)</text>
<rect x="362.6" y="232.4" width="4.6" height="4.8" fill="#5e2f72"/>
<text x="371" y="236.9" font-size="6" text-anchor="start" fill="#333" font-weight="normal" stroke="#333" stroke-width="0.08" >IV</text>
<rect x="362.6" y="242.25" width="4.6" height="4.8" fill="#7e4c92"/>
<text x="371" y="246.75" font-size="6" text-anchor="start" fill="#333" font-weight="normal" stroke="#333" stroke-width="0.08" >III</text>
<rect x="362.6" y="252.1" width="4.6" height="4.8" fill="#9c7cab"/>
<text x="371" y="256.6" font-size="6" text-anchor="start" fill="#333" font-weight="normal" stroke="#333" stroke-width="0.08" >II</text>
<rect x="362.6" y="261.95" width="4.6" height="4.8" fill="#bea8c9"/>
<text x="371" y="266.45" font-size="6" text-anchor="start" fill="#333" font-weight="normal" stroke="#333" stroke-width="0.08" >I</text>
<rect x="362.6" y="271.8" width="4.6" height="4.8" fill="#ded2e8"/>
<text x="371" y="276.3" font-size="6" text-anchor="start" fill="#333" font-weight="normal" stroke="#333" stroke-width="0.08" >0</text>
<text x="391.7" y="213.9" font-size="11" text-anchor="start" fill="#000" font-weight="bold" stroke="#000" stroke-width="0.22" >E</text>
<rect x="425.2" y="308.3" width="27.7" height="53.7" fill="#f2d2d9"/>
<rect x="425.2" y="281.5" width="27.7" height="26.8" fill="#e9a1ae"/>
<rect x="425.2" y="263.9" width="27.7" height="17.6" fill="#de7184"/>
<rect x="425.2" y="238.7" width="27.7" height="25.2" fill="#d2445e"/>
<rect x="425.2" y="232" width="27.7" height="6.7" fill="#c8102e"/>
<rect x="463.3" y="316.8" width="27.9" height="45.2" fill="#f2d2d9"/>
<rect x="463.3" y="285.8" width="27.9" height="31" fill="#e9a1ae"/>
<rect x="463.3" y="263" width="27.9" height="22.8" fill="#de7184"/>
<rect x="463.3" y="240.3" width="27.9" height="22.7" fill="#d2445e"/>
<rect x="463.3" y="232" width="27.9" height="8.3" fill="#c8102e"/>
<path d="M425.2,281.5 H452.9 L463.3,285.8 H491.2" fill="none" stroke="#231020" stroke-width="1.1"/>
<text x="476.65" y="284.3" font-size="5.2" text-anchor="middle" fill="#2a1030" font-weight="normal" stroke="#2a1030" stroke-width="0.25" >ns</text>
<line x1="420.8" y1="229" x2="420.8" y2="364.1" stroke="#1a1a1a" stroke-width="1.2"/>
<line x1="417.8" y1="363.6" x2="496.6" y2="363.6" stroke="#1a1a1a" stroke-width="1.3"/>
<line x1="417.8" y1="363.6" x2="420.8" y2="363.6" stroke="#1a1a1a" stroke-width="0.9"/>
<text x="414.6" y="365.9" font-size="6.2" text-anchor="end" fill="#222" font-weight="normal" stroke="#222" stroke-width="0.22" >0</text>
<line x1="417.8" y1="337.3" x2="420.8" y2="337.3" stroke="#1a1a1a" stroke-width="0.9"/>
<text x="414.6" y="339.6" font-size="6.2" text-anchor="end" fill="#222" font-weight="normal" stroke="#222" stroke-width="0.22" >20</text>
<line x1="417.8" y1="311" x2="420.8" y2="311" stroke="#1a1a1a" stroke-width="0.9"/>
<text x="414.6" y="313.3" font-size="6.2" text-anchor="end" fill="#222" font-weight="normal" stroke="#222" stroke-width="0.22" >40</text>
<line x1="417.8" y1="284.7" x2="420.8" y2="284.7" stroke="#1a1a1a" stroke-width="0.9"/>
<text x="414.6" y="287" font-size="6.2" text-anchor="end" fill="#222" font-weight="normal" stroke="#222" stroke-width="0.22" >60</text>
<line x1="417.8" y1="258.4" x2="420.8" y2="258.4" stroke="#1a1a1a" stroke-width="0.9"/>
<text x="414.6" y="260.7" font-size="6.2" text-anchor="end" fill="#222" font-weight="normal" stroke="#222" stroke-width="0.22" >80</text>
<line x1="417.8" y1="232.1" x2="420.8" y2="232.1" stroke="#1a1a1a" stroke-width="0.9"/>
<text x="414.6" y="234.4" font-size="6.2" text-anchor="end" fill="#222" font-weight="normal" stroke="#222" stroke-width="0.22" >100</text>
<line x1="439.05" y1="363.6" x2="439.05" y2="366.2" stroke="#1a1a1a" stroke-width="0.9"/>
<text x="439.05" y="375.4" font-size="6" text-anchor="middle" fill="#222" font-weight="normal" stroke="#222" stroke-width="0.22" >Low</text>
<line x1="477.25" y1="363.6" x2="477.25" y2="366.2" stroke="#1a1a1a" stroke-width="0.9"/>
<text x="477.25" y="375.4" font-size="6" text-anchor="middle" fill="#222" font-weight="normal" stroke="#222" stroke-width="0.22" >High</text>
<text x="426" y="213.9" fill="#1a1a1a" stroke="#1a1a1a" stroke-width="0.25" font-size="7.6" textLength="64.5" lengthAdjust="spacing"><tspan font-size="8.5">ICANS</tspan> severity by</text>
<text x="442" y="223.7" fill="#1a1a1a" stroke="#1a1a1a" stroke-width="0.25" font-size="7.6"><tspan font-size="8.5">HT</tspan> score</text>
<text transform="translate(398.9,297.6) rotate(-90)" font-size="8.4" text-anchor="middle" fill="#1a1a1a" stroke="#1a1a1a" stroke-width="0.3" textLength="59" lengthAdjust="spacingAndGlyphs">Percent of patients (%)</text>
<rect x="499.9" y="232.4" width="4.6" height="4.8" fill="#c8102e"/>
<text x="508.3" y="236.9" font-size="6" text-anchor="start" fill="#333" font-weight="normal" stroke="#333" stroke-width="0.08" >IV</text>
<rect x="499.9" y="242.25" width="4.6" height="4.8" fill="#d2445e"/>
<text x="508.3" y="246.75" font-size="6" text-anchor="start" fill="#333" font-weight="normal" stroke="#333" stroke-width="0.08" >III</text>
<rect x="499.9" y="252.1" width="4.6" height="4.8" fill="#de7184"/>
<text x="508.3" y="256.6" font-size="6" text-anchor="start" fill="#333" font-weight="normal" stroke="#333" stroke-width="0.08" >II</text>
<rect x="499.9" y="261.95" width="4.6" height="4.8" fill="#e9a1ae"/>
<text x="508.3" y="266.45" font-size="6" text-anchor="start" fill="#333" font-weight="normal" stroke="#333" stroke-width="0.08" >I</text>
<rect x="499.9" y="271.8" width="4.6" height="4.8" fill="#f2d2d9"/>
<text x="508.3" y="276.3" font-size="6" text-anchor="start" fill="#333" font-weight="normal" stroke="#333" stroke-width="0.08" >0</text>
<rect x="0.5" y="0.5" width="519" height="393" fill="none" stroke="#606060" stroke-width="1"/>
</svg></div></body></html>
